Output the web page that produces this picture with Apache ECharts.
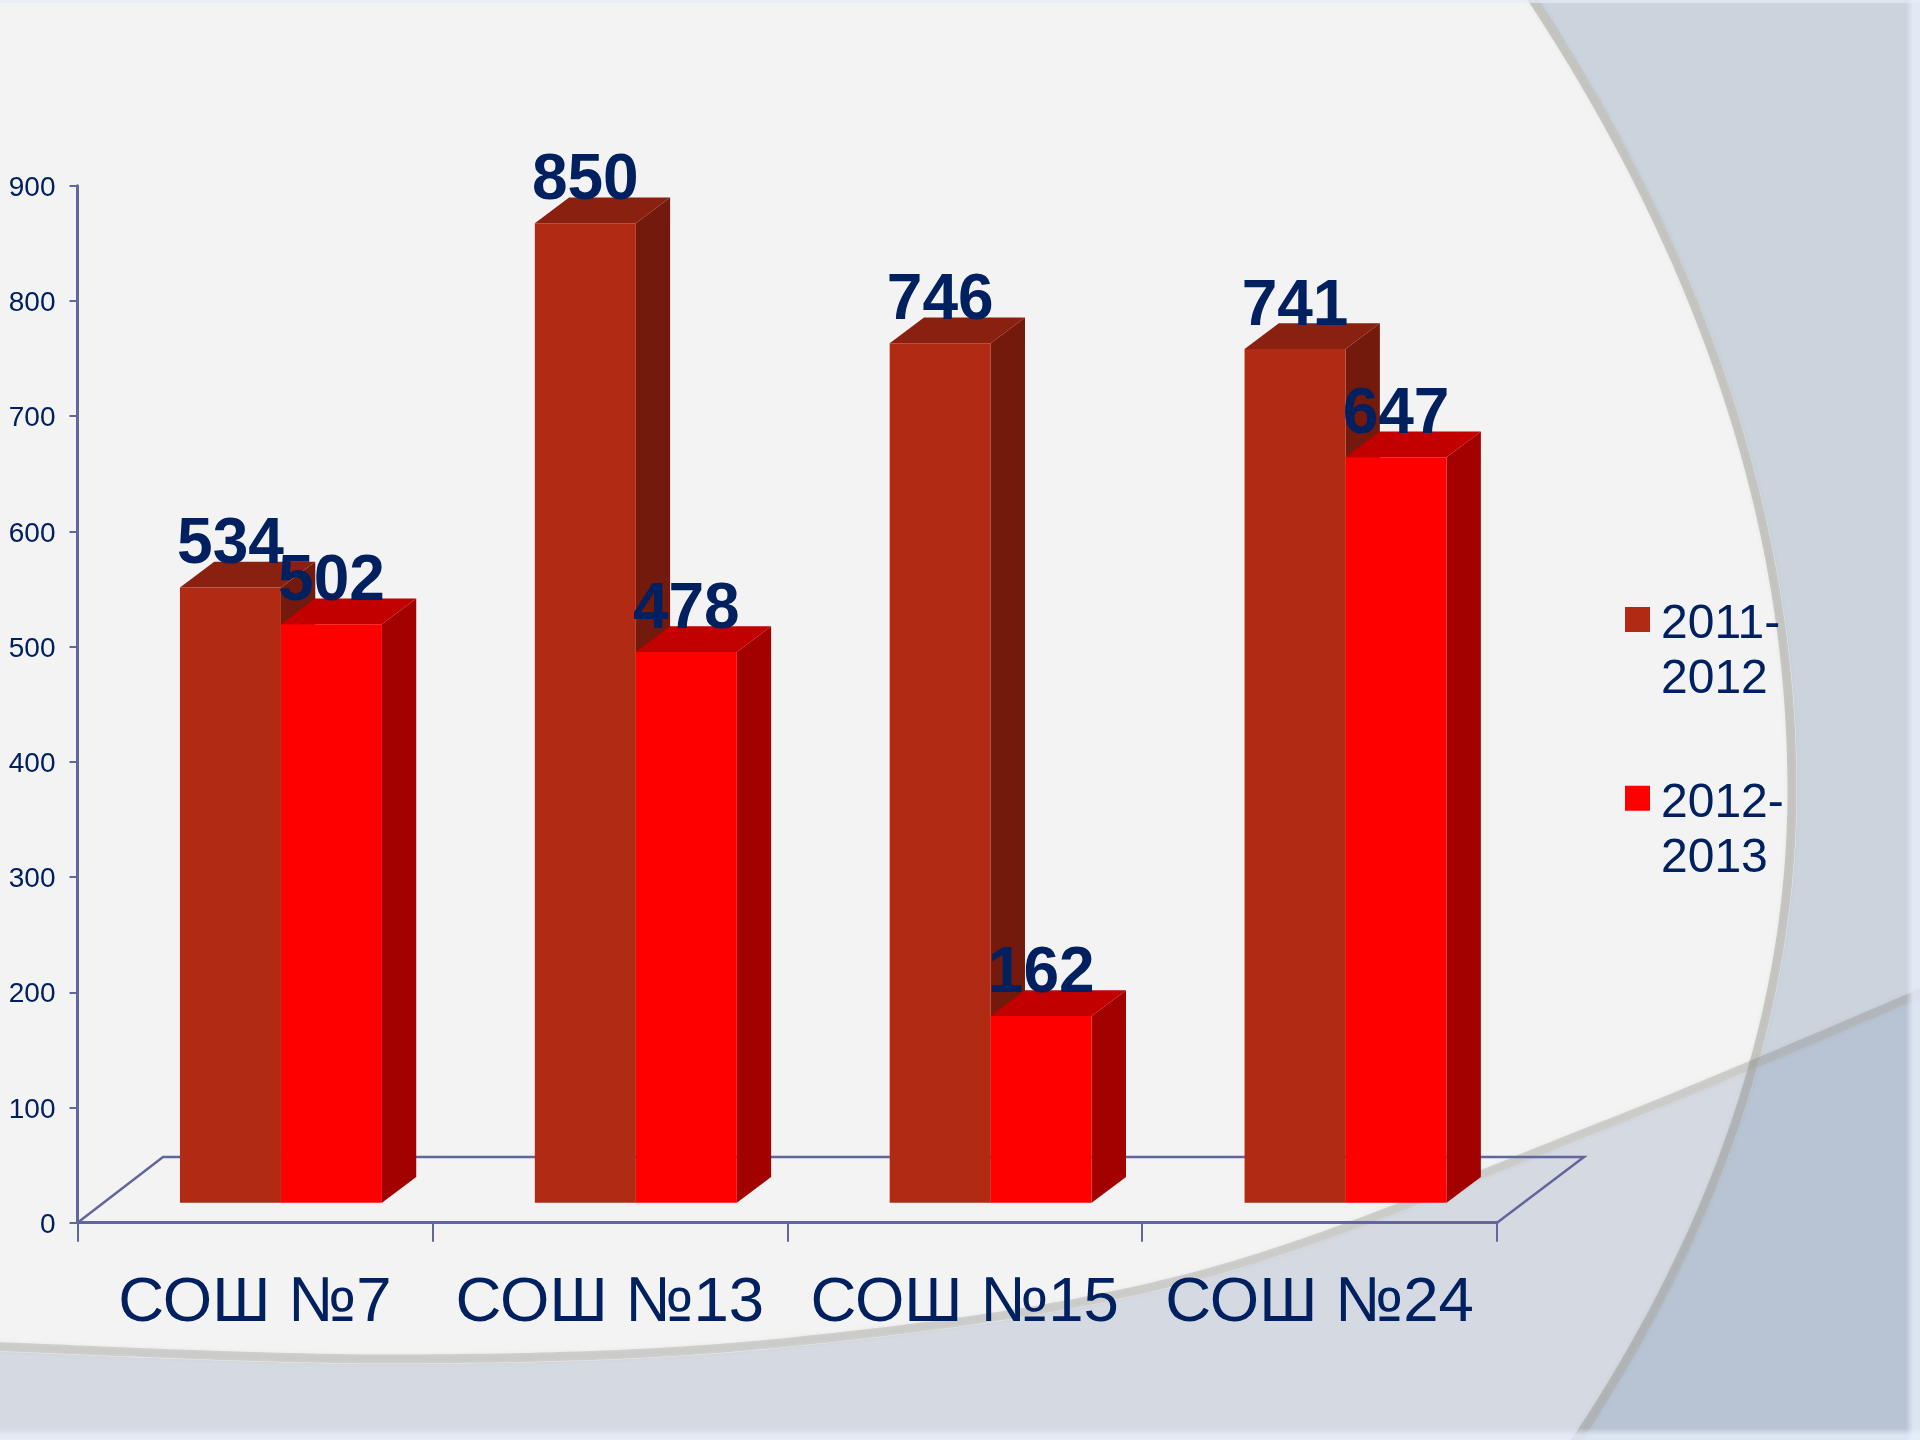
<!DOCTYPE html>
<html>
<head>
<meta charset="utf-8">
<style>
  html, body { margin: 0; padding: 0; background: #f3f3f3; }
  #main { width: 1920px; height: 1440px; }
</style>
<script src="https://cdn.jsdelivr.net/npm/echarts@6/dist/echarts.min.js"></script>
</head>
<body>
<div id="main"></div>
<script>
const categories = ['СОШ №7', 'СОШ №13', 'СОШ №15', 'СОШ №24'];
const seriesNames = ['2011-2012', '2012-2013'];
const values2011 = [534, 850, 746, 741];
const values2012 = [502, 478, 162, 647];

const textColor = '#002060';
const axisColor = '#62669c';
const fontName = '"Liberation Sans", Arial, sans-serif';

// объём столбцов
const barWidth = 101;
const depthX = 34.3;
const depthY = 25.7;
const baseLift = 20;
const faces = [
  { front: '#b12b14', top: '#8a2010', side: '#741a0c', offset: -75 },
  { front: '#ff0000', top: '#c20000', side: '#a30000', offset: 26 }
];

// сглаживание кривой фона
function curve(pts) {
  const out = [];
  for (let i = 0; i < pts.length - 1; i++) {
    const p0 = pts[Math.max(i - 1, 0)], p1 = pts[i], p2 = pts[i + 1], p3 = pts[Math.min(i + 2, pts.length - 1)];
    for (let k = 0; k < 30; k++) {
      const t = k / 30, t2 = t * t, t3 = t2 * t;
      out.push([0, 1].map(j => 0.5 * (2 * p1[j] + (p2[j] - p0[j]) * t +
        (2 * p0[j] - 5 * p1[j] + 4 * p2[j] - p3[j]) * t2 +
        (3 * p1[j] - p0[j] - 3 * p2[j] + p3[j]) * t3)));
    }
  }
  out.push(pts[pts.length - 1]);
  return out;
}

// правая дуга фона: вершина около y = 790
const arcRight = [];
for (let y = -25; y <= 1450; y += 15) {
  const c = y < 790 ? 4.15e-4 : 5.1e-4;
  arcRight.push([1797 - c * (y - 790) * (y - 790), y]);
}
const arcBottom = curve([[-20, 1351], [408, 1364], [800, 1346], [1200, 1280], [1600, 1132], [1940, 990]]);

const bandStyle = {
  stroke: 'rgba(120,120,115,0.33)', lineWidth: 9, fill: 'none',
  shadowBlur: 4, shadowColor: 'rgba(120,120,115,0.3)'
};

const background = [
  { type: 'rect', z: -10, silent: true, shape: { x: 0, y: 0, width: 1920, height: 1440 }, style: { fill: '#f3f3f3' } },
  { type: 'polygon', z: -9, silent: true, shape: { points: arcRight.concat([[1930, 1450], [1930, -25]]) }, style: { fill: '#cbd3dd' } },
  { type: 'polygon', z: -8, silent: true, shape: { points: arcBottom.concat([[1940, 1450], [-20, 1450]]) }, style: { fill: 'rgba(143,160,190,0.3)' } },
  { type: 'polyline', z: -7, silent: true, shape: { points: arcRight.map(p => [p[0] - 5, p[1]]) }, style: bandStyle },
  { type: 'polyline', z: -6, silent: true, shape: { points: arcBottom.map(p => [p[0], p[1] - 5]) }, style: { ...bandStyle, stroke: 'rgba(120,120,115,0.26)' } },
  { type: 'rect', z: -5, silent: true, shape: { x: 1906, y: 0, width: 14, height: 1440 },
    style: { fill: new echarts.graphic.LinearGradient(0, 0, 1, 0, [{ offset: 0, color: 'rgba(232,240,252,0)' }, { offset: 0.5, color: 'rgba(232,240,252,0.75)' }, { offset: 1, color: 'rgba(232,240,252,0.75)' }]) } },
  { type: 'rect', z: -5, silent: true, shape: { x: 0, y: 1428, width: 1920, height: 12 },
    style: { fill: new echarts.graphic.LinearGradient(0, 0, 0, 1, [{ offset: 0, color: 'rgba(232,240,252,0)' }, { offset: 0.6, color: 'rgba(232,240,252,0.75)' }, { offset: 1, color: 'rgba(232,240,252,0.75)' }]) } },
  { type: 'rect', z: -5, silent: true, shape: { x: 0, y: 0, width: 1920, height: 3 }, style: { fill: 'rgba(228,236,248,0.7)' } },
  // пол диаграммы
  { type: 'polyline', z: 1, silent: true, shape: { points: [[77.5, 1222.7], [163, 1157], [1584, 1157], [1497, 1222.7]] }, style: { stroke: axisColor, lineWidth: 2.5, fill: 'none' } }
];

function renderBar(params, api) {
  const face = faces[params.seriesIndex];
  const cat = api.value(0);
  const top = api.coord([cat, api.value(1)]);
  const base = api.coord([cat, 0]);
  const x0 = top[0] + face.offset;
  const x1 = x0 + barWidth;
  const yTop = top[1] - baseLift;
  const yBase = base[1] - baseLift;
  return {
    type: 'group',
    children: [
      { type: 'polygon', shape: { points: [[x1, yTop], [x1 + depthX, yTop - depthY], [x1 + depthX, yBase - depthY], [x1, yBase]] }, style: { fill: face.side } },
      { type: 'polygon', shape: { points: [[x0, yTop], [x0 + depthX, yTop - depthY], [x1 + depthX, yTop - depthY], [x1, yTop]] }, style: { fill: face.top } },
      { type: 'rect', shape: { x: x0, y: yTop, width: barWidth, height: yBase - yTop }, style: { fill: face.front } },
      {
        type: 'text', z2: 100,
        style: {
          text: String(api.value(1)), x: x0 + barWidth / 2, y: yTop - 10,
          align: 'center', verticalAlign: 'bottom',
          fill: textColor, font: 'bold 64px ' + fontName
        }
      }
    ]
  };
}

const myChart = echarts.init(document.getElementById('main'));

const legendLine = { color: textColor, fontSize: 48, fontFamily: fontName, lineHeight: 55.5, padding: [0, 0, 0, 6] };

const option = {
  animation: false,
  color: [faces[0].front, faces[1].front],
  graphic: background,
  legend: {
    orient: 'vertical',
    left: 1625,
    top: 540,
    padding: 0,
    itemWidth: 25,
    itemHeight: 25,
    itemGap: 14.5,
    icon: 'rect',
    data: seriesNames,
    // пустая строка сверху, чтобы значок стоял напротив первой строки подписи
    formatter: name => {
      const parts = name.split('-');
      return '{gap| }\n{line|' + parts[0] + '-}\n{line|' + parts[1] + '}';
    },
    textStyle: {
      color: textColor,
      rich: { gap: { ...legendLine, lineHeight: 66 }, line: legendLine }
    }
  },
  grid: { left: 77.5, right: 423, top: 185.7, bottom: 217.3 },
  xAxis: {
    type: 'category',
    data: categories,
    axisLine: { lineStyle: { color: axisColor, width: 3 } },
    axisTick: { show: true, length: 19, lineStyle: { color: axisColor, width: 2 } },
    axisLabel: { interval: 0, fontSize: 63.5, color: textColor, fontFamily: fontName, margin: 49 }
  },
  yAxis: {
    type: 'value',
    min: 0,
    max: 900,
    interval: 100,
    splitLine: { show: false },
    axisLine: { show: true, lineStyle: { color: axisColor, width: 3 } },
    axisTick: { show: true, length: 8, lineStyle: { color: axisColor, width: 2 } },
    axisLabel: {
      margin: 22,
      formatter: '{v|{value}}',
      rich: { v: { fontSize: 28, color: textColor, fontFamily: fontName, padding: [5, 0, 0, 0] } }
    }
  },
  series: [
    { name: seriesNames[0], type: 'custom', renderItem: renderBar, encode: { x: 0, y: 1 }, data: values2011.map((v, i) => [i, v]) },
    { name: seriesNames[1], type: 'custom', renderItem: renderBar, encode: { x: 0, y: 1 }, data: values2012.map((v, i) => [i, v]) }
  ]
};

myChart.setOption(option);
</script>
</body>
</html>
